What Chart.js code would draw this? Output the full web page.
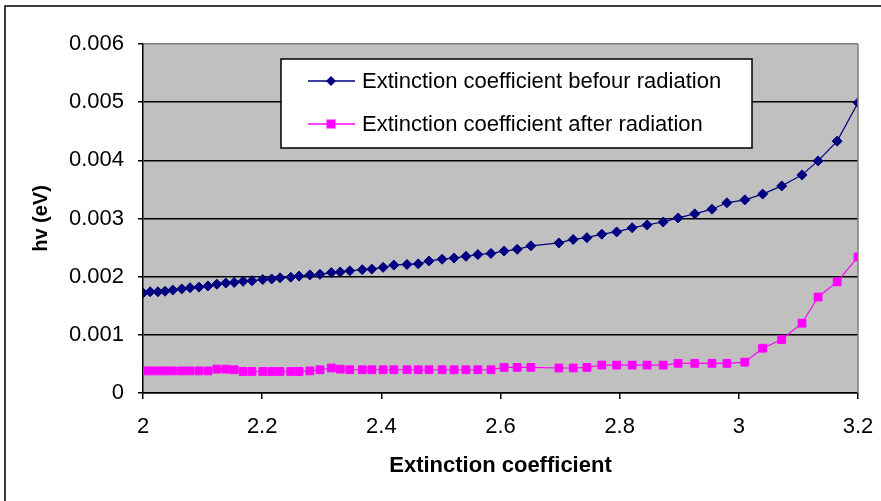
<!DOCTYPE html>
<html>
<head>
<meta charset="utf-8">
<script src="https://cdn.jsdelivr.net/npm/chart.js@4.4.0/dist/chart.umd.min.js"></script>
<style>
html, body { margin: 0; padding: 0; background: #fff; }
canvas { display: block; }
</style>
</head>
<body>
<canvas id="chart" width="881" height="501"></canvas>
<script>
// x positions (same for both series)
const energies = [
  2.000, 2.012, 2.025, 2.037, 2.050, 2.065, 2.079, 2.094, 2.109, 2.124,
  2.139, 2.153, 2.168, 2.183, 2.201, 2.216, 2.230, 2.248, 2.262, 2.280,
  2.297, 2.316, 2.331, 2.347, 2.368, 2.384, 2.403, 2.421, 2.443, 2.462,
  2.480, 2.502, 2.522, 2.542, 2.562, 2.584, 2.606, 2.628, 2.651, 2.698,
  2.722, 2.745, 2.770, 2.795, 2.821, 2.846, 2.873, 2.898, 2.926, 2.955,
  2.980, 3.010, 3.040, 3.072, 3.106, 3.133, 3.165, 3.200
];
const beforeRadiation = [
  0.00172, 0.00174, 0.00174, 0.00175, 0.00177, 0.00179, 0.00181, 0.00182, 0.00184, 0.00187,
  0.00189, 0.00190, 0.00192, 0.00193, 0.00195, 0.00196, 0.00198, 0.00199, 0.00201, 0.00203,
  0.00204, 0.00207, 0.00208, 0.00210, 0.00212, 0.00213, 0.00216, 0.00220, 0.00221, 0.00222,
  0.00227, 0.00230, 0.00232, 0.00235, 0.00238, 0.00240, 0.00244, 0.00247, 0.00253, 0.00258,
  0.00264, 0.00267, 0.00273, 0.00277, 0.00284, 0.00289, 0.00294, 0.00301, 0.00308, 0.00316,
  0.00327, 0.00332, 0.00342, 0.00356, 0.00375, 0.00399, 0.00433, 0.00499
];
const afterRadiation = [
  0.00038, 0.00038, 0.00038, 0.00038, 0.00038, 0.00038, 0.00038, 0.00038, 0.00038, 0.00041,
  0.00041, 0.00040, 0.00037, 0.00037, 0.00037, 0.00037, 0.00037, 0.00037, 0.00037, 0.00038,
  0.00040, 0.00043, 0.00041, 0.00040, 0.00040, 0.00040, 0.00040, 0.00040, 0.00040, 0.00040,
  0.00040, 0.00040, 0.00040, 0.00040, 0.00040, 0.00040, 0.00044, 0.00044, 0.00044, 0.00043,
  0.00043, 0.00044, 0.00048, 0.00048, 0.00048, 0.00048, 0.00048, 0.00051, 0.00051, 0.00051,
  0.00051, 0.00053, 0.00077, 0.00092, 0.00120, 0.00165, 0.00191, 0.00234
];
const seriesNames = [
  'Extinction coefficient befour radiation',
  'Extinction coefficient after radiation'
];
const xTickLabels = ['2', '2.2', '2.4', '2.6', '2.8', '3', '3.2'];
const yTickLabels = ['0', '0.001', '0.002', '0.003', '0.004', '0.005', '0.006'];

const FONT = '"Liberation Sans", Arial, sans-serif';
const BLUE = '#000080';
const PINK = '#FF00FF';

function toPoints(ys) {
  return energies.map(function(x, i) { return {x: x, y: ys[i]}; });
}

const excelLook = {
  id: 'excelLook',
  beforeDraw: function(chart) {
    const ctx = chart.ctx, a = chart.chartArea;
    ctx.save();
    ctx.fillStyle = '#C0C0C0';
    ctx.fillRect(a.left, a.top, a.right - a.left, a.bottom - a.top);
    ctx.restore();
  },
  afterDraw: function(chart) {
    const ctx = chart.ctx, a = chart.chartArea;
    ctx.save();
    // right edge of plot area
    ctx.strokeStyle = '#808080';
    ctx.lineWidth = 1.5;
    ctx.beginPath();
    ctx.moveTo(a.right, a.top);
    ctx.lineTo(a.right, a.bottom);
    ctx.stroke();

    // legend box
    const lx = a.left + 138, ly = a.top + 15, lw = 471, lh = 89;
    ctx.fillStyle = '#fff';
    ctx.fillRect(lx, ly, lw, lh);
    ctx.strokeStyle = '#000';
    ctx.lineWidth = 1.5;
    ctx.strokeRect(lx, ly, lw, lh);

    const rows = [
      {y: ly + 22, color: BLUE, shape: 'diamond'},
      {y: ly + 65, color: PINK, shape: 'square'}
    ];
    ctx.font = '22px ' + FONT;
    ctx.textBaseline = 'middle';
    rows.forEach(function(r, i) {
      ctx.strokeStyle = r.color;
      ctx.lineWidth = 1.5;
      ctx.beginPath();
      ctx.moveTo(lx + 27, r.y);
      ctx.lineTo(lx + 74, r.y);
      ctx.stroke();
      ctx.fillStyle = r.color;
      const cx = lx + 50;
      ctx.beginPath();
      if (r.shape === 'diamond') {
        ctx.moveTo(cx, r.y - 5);
        ctx.lineTo(cx + 5, r.y);
        ctx.lineTo(cx, r.y + 5);
        ctx.lineTo(cx - 5, r.y);
        ctx.closePath();
      } else {
        ctx.rect(cx - 4.5, r.y - 4.5, 9, 9);
      }
      ctx.fill();
      ctx.fillStyle = '#000';
      ctx.fillText(seriesNames[i], lx + 81, r.y + 1);
    });

    // outer frame
    ctx.strokeStyle = '#000';
    ctx.lineWidth = 1.5;
    ctx.strokeRect(5, 6, 1000, 1000);
    ctx.restore();
  }
};

new Chart(document.getElementById('chart'), {
  type: 'line',
  data: {
    datasets: [
      {
        label: seriesNames[0],
        data: toPoints(beforeRadiation),
        borderColor: BLUE,
        backgroundColor: BLUE,
        borderWidth: 1.2,
        pointStyle: 'rectRot',
        pointRadius: 5,
        pointBorderWidth: 1,
        tension: 0
      },
      {
        label: seriesNames[1],
        data: toPoints(afterRadiation),
        borderColor: PINK,
        backgroundColor: PINK,
        borderWidth: 1.2,
        pointStyle: 'rect',
        pointRadius: 5.5,
        pointBorderWidth: 1,
        tension: 0
      }
    ]
  },
  options: {
    responsive: false,
    animation: false,
    layout: { padding: { left: 0, top: 44, right: 23, bottom: 0 } },
    plugins: {
      legend: { display: false },
      tooltip: { enabled: false }
    },
    scales: {
      x: {
        type: 'linear',
        min: 2,
        max: 3.2,
        afterFit: function(scale) {
          scale.height = 108;
          scale.paddingLeft = 0;
          scale.paddingRight = 0;
        },
        ticks: {
          stepSize: 0.2,
          padding: 15,
          color: '#000',
          font: { family: FONT, size: 22 },
          maxRotation: 0,
          callback: function(v, i) { return xTickLabels[i]; }
        },
        grid: { drawOnChartArea: false, drawTicks: true, tickLength: 6, color: '#000', tickColor: '#000', lineWidth: 1.5 },
        border: { color: '#000', width: 1.5 },
        title: {
          display: true,
          text: 'Extinction coefficient',
          color: '#000',
          font: { family: FONT, size: 22, weight: 'bold' },
          padding: { top: 0, bottom: 22 }
        }
      },
      y: {
        min: 0,
        max: 0.006,
        afterFit: function(scale) {
          scale.width = 143;
          scale.paddingTop = 0;
          scale.paddingBottom = 0;
        },
        ticks: {
          stepSize: 0.001,
          padding: 14,
          color: '#000',
          font: { family: FONT, size: 22 },
          callback: function(v, i) { return yTickLabels[i]; }
        },
        grid: {
          drawTicks: true,
          tickLength: 5,
          lineWidth: 1.5,
          tickColor: '#000',
          color: function(c) { return c.tick && c.tick.value >= 0.006 ? '#808080' : '#000'; }
        },
        border: { color: '#000', width: 1.5 },
        title: {
          display: true,
          text: 'hv (eV)',
          color: '#000',
          font: { family: FONT, size: 20, weight: 'bold' },
          padding: { top: 29, bottom: 0 }
        }
      }
    }
  },
  plugins: [excelLook]
});
</script>
</body>
</html>
